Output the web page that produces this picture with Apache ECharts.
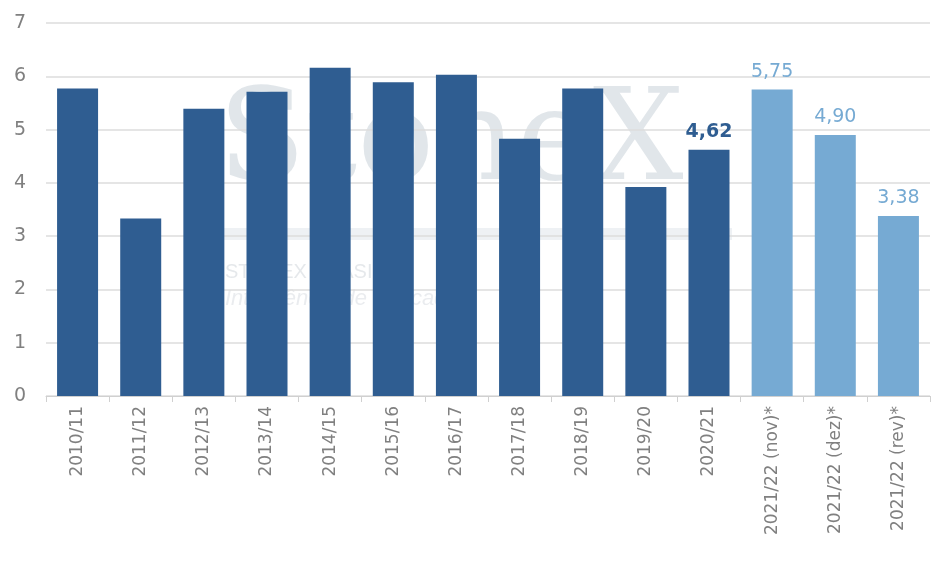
<!DOCTYPE html>
<html>
<head>
<meta charset="utf-8">
<script src="https://cdn.jsdelivr.net/npm/echarts@6/dist/echarts.min.js"></script>
<style>
  html, body { margin: 0; padding: 0; background: #fff; }
  #chart { width: 945px; height: 567px; }
</style>
</head>
<body>
<div id="chart"></div>
<script>
// dados
var safras = [
  "2010/11", "2011/12", "2012/13", "2013/14", "2014/15", "2015/16", "2016/17",
  "2017/18", "2018/19", "2019/20", "2020/21",
  "2021/22 (nov)*", "2021/22 (dez)*", "2021/22 (rev)*"
];
var valores = [5.77, 3.33, 5.39, 5.71, 6.16, 5.89, 6.03, 4.83, 5.77, 3.92, 4.62, 5.75, 4.90, 3.38];
// quais barras são estimativas (azul claro)
var estimativa = [0, 0, 0, 0, 0, 0, 0, 0, 0, 0, 0, 1, 1, 1];
// barras com rótulo de valor
var comRotulo = [0, 0, 0, 0, 0, 0, 0, 0, 0, 0, 1, 1, 1, 1];

var azulEscuro = "#2f5d91";
var azulClaro = "#76aad3";

var dados = valores.map(function (v, i) {
  var cor = estimativa[i] ? azulClaro : azulEscuro;
  return {
    value: v,
    itemStyle: { color: cor },
    label: {
      show: !!comRotulo[i],
      color: cor,
      fontWeight: estimativa[i] ? "normal" : "bold",
      formatter: function (p) { return p.value.toFixed(2).replace(".", ","); }
    }
  };
});

var myChart = echarts.init(document.getElementById("chart"));

var option = {
  backgroundColor: "#fff",
  animation: false,
  textStyle: { fontFamily: "DejaVu Sans" },
  grid: { left: 46, right: 15, top: 23, bottom: 171 },
  // marca d'água
  graphic: [
    {
      type: "text", left: 218, top: 82, z: -1, silent: true,
      style: { text: "StoneX", fontSize: 128, fontFamily: "DejaVu Serif", fill: "rgba(175,188,200,0.38)" }
    },
    {
      type: "rect", left: 222, top: 228, z: -1, silent: true,
      shape: { width: 510, height: 12 },
      style: { fill: "rgba(200,210,220,0.3)" }
    },
    {
      type: "text", left: 225, top: 262, z: -1, silent: true,
      style: { text: "STONEX BRASIL", fontSize: 20, fill: "rgba(170,180,190,0.3)" }
    },
    {
      type: "text", left: 225, top: 288, z: -1, silent: true,
      style: { text: "Inteligência de Mercado", fontSize: 22, fontStyle: "italic", fill: "rgba(170,180,190,0.25)" }
    }
  ],
  xAxis: {
    type: "category",
    data: safras,
    axisLine: { lineStyle: { color: "#d0d0d0" } },
    axisTick: { show: true, alignWithLabel: false, lineStyle: { color: "#d0d0d0" }, length: 6 },
    axisLabel: { rotate: 90, color: "#808080", fontSize: 17, margin: 10, interval: 0 }
  },
  yAxis: {
    type: "value",
    min: 0,
    max: 7,
    interval: 1,
    axisLabel: { color: "#808080", fontSize: 19, margin: 20 },
    splitLine: { lineStyle: { color: "#dcdcdc", width: 1.5 } },
    axisLine: { show: false },
    axisTick: { show: false }
  },
  series: [
    {
      name: "safras",
      type: "bar",
      data: dados,
      barWidth: 41,
      label: { position: "top", fontSize: 19, distance: 8 }
    }
  ]
};

myChart.setOption(option);
</script>
</body>
</html>
